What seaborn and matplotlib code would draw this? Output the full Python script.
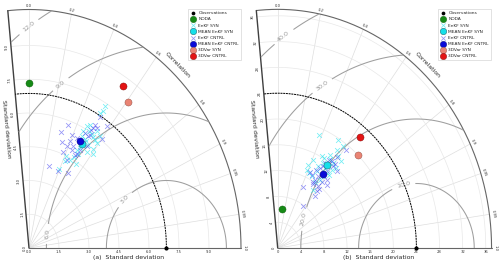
import numpy as np
import matplotlib
matplotlib.use("Agg")
import matplotlib.pyplot as plt
import seaborn as sns

sns.set_style("white")
plt.rcParams['font.family'] = ['DejaVu Sans']

# ---------------- data ----------------
labels = ["Observations", "NODA", "EnKF SYN", "MEAN EnKF SYN", "EnKF CNTRL",
          "MEAN EnKF CNTRL", "3DVar SYN", "3DVar CNTRL"]
corr_ticks = [0.0, 0.2, 0.4, 0.6, 0.8, 0.9, 0.95, 0.99, 1.0]
corr_min = -0.1

# panel (a)
a_ref_std = 6.87
a_std_ticks = [0.0, 1.5, 3.0, 4.5, 6.0, 7.5, 9.0]
a_rms_levels = [3.0, 6.0, 9.0, 12.0]
a_noda = [7.35, 0.00]          # std, corr
a_mean_syn = [5.34, 0.50]
a_mean_cntrl = [5.41, 0.471]
a_3dvar_syn = [8.14, 0.606]
a_3dvar_cntrl = [8.61, 0.548]
a_syn_std = [7.38, 7.10, 6.27, 6.15, 6.19, 5.97, 5.64, 5.89, 5.59, 5.81, 5.47, 5.76, 5.12, 5.43, 5.16,
             4.86, 5.28, 4.63, 4.43, 4.40, 4.25, 3.82, 5.86, 6.97, 5.53, 5.33, 6.00, 4.97, 4.47, 6.10]
a_syn_corr = [0.515, 0.518, 0.486, 0.475, 0.546, 0.525, 0.467, 0.546, 0.501, 0.568, 0.542, 0.587, 0.498,
              0.586, 0.566, 0.508, 0.609, 0.486, 0.463, 0.534, 0.424, 0.397, 0.464, 0.509, 0.515, 0.493,
              0.502, 0.486, 0.414, 0.582]
a_cntrl_std = [6.82, 6.68, 6.40, 5.82, 6.31, 6.07, 5.83, 5.47, 5.39, 5.78, 6.05, 5.44, 4.97, 5.17, 5.40,
               4.89, 5.03, 5.36, 4.59, 4.84, 5.06, 4.35, 3.77, 3.71, 3.87, 4.74, 5.89, 5.43, 4.86, 6.21]
a_cntrl_corr = [0.521, 0.586, 0.516, 0.338, 0.536, 0.508, 0.480, 0.390, 0.294, 0.513, 0.600, 0.438, 0.329,
                0.397, 0.503, 0.385, 0.440, 0.538, 0.367, 0.499, 0.504, 0.433, 0.270, 0.395, 0.508, 0.485,
                0.518, 0.463, 0.439, 0.513]

# panel (b)
b_ref_std = 24.0
b_std_ticks = [0, 4, 8, 12, 16, 20, 24, 28, 32, 36]
b_rms_levels = [10.0, 20.0, 30.0, 40.0]
b_noda = [6.09, 0.113]
b_mean_syn = [15.52, 0.554]
b_mean_cntrl = [13.87, 0.561]
b_3dvar_syn = [20.1, 0.694]
b_3dvar_cntrl = [22.3, 0.639]
b_syn_std = [18.87, 19.66, 19.36, 16.21, 17.07, 15.02, 17.30, 16.32, 13.14, 14.49, 14.86, 15.32, 13.67, 14.39,
             12.57, 12.88, 10.95, 18.41, 15.99, 15.31, 14.46, 12.06, 16.50, 13.87, 17.67, 13.47, 16.09, 12.86]
b_syn_corr = [0.379, 0.528, 0.581, 0.469, 0.530, 0.411, 0.630, 0.590, 0.382, 0.486, 0.551, 0.610, 0.494,
              0.589, 0.468, 0.569, 0.564, 0.561, 0.631, 0.509, 0.618, 0.536, 0.549, 0.383, 0.594, 0.565,
              0.498, 0.426]
b_cntrl_std = [19.21, 17.48, 16.27, 15.52, 15.93, 14.40, 15.74, 13.00, 14.60, 12.80, 13.15, 13.57, 12.41,
               12.71, 11.62, 11.95, 13.05, 10.45, 11.65, 10.29, 7.92, 14.92, 16.37, 13.83, 13.70, 11.08,
               16.41, 11.90]
b_cntrl_corr = [0.615, 0.590, 0.549, 0.528, 0.598, 0.508, 0.656, 0.430, 0.581, 0.460, 0.535, 0.625, 0.521,
                0.599, 0.521, 0.589, 0.658, 0.425, 0.619, 0.628, 0.561, 0.529, 0.571, 0.479, 0.585, 0.609,
                0.604, 0.518]

# ---------------- layout ----------------
FW, FH = 500, 265
fig = plt.figure(figsize=(FW / 100, FH / 100), dpi=100)
tmax = np.arccos(corr_min)


def to_xy(std, corr):
    std = np.asarray(std, float)
    corr = np.asarray(corr, float)
    return std * corr, std * np.sqrt(1 - corr ** 2)


def panel(x0, ox, oy, hs, vs, smax, ref, std_ticks, std_fmt, levels, lab_angles, tag,
          noda, msyn, mcntrl, vsyn, vcntrl, syn_s, syn_c, cn_s, cn_c):
    ax = fig.add_axes([x0 / FW, 0, 250 / FW, 1])
    ax.set_xlim(-ox / hs, (250 - ox) / hs)
    ax.set_ylim(-(FH - oy) / vs, oy / vs)
    ax.axis('off')

    th = np.linspace(0, tmax, 300)
    # grid
    for c in corr_ticks:
        t = np.arccos(c)
        ax.plot([0, smax * np.cos(t)], [0, smax * np.sin(t)], color='0.87', lw=0.5, zorder=1)
    for s in std_ticks[1:]:
        ax.plot(s * np.cos(th), s * np.sin(th), color='0.91', lw=0.5, zorder=1)
    # frame
    ax.plot(smax * np.cos(th), smax * np.sin(th), color='0.4', lw=0.8, zorder=2)
    ax.plot([0, smax], [0, 0], color='0.4', lw=0.8, zorder=2)
    ax.plot([0, smax * np.cos(tmax)], [0, smax * np.sin(tmax)], color='0.25', lw=1.0, zorder=2)

    # RMS contours
    gx = np.linspace(-0.15 * smax, smax, 500)
    gy = np.linspace(0, smax, 500)
    X, Y = np.meshgrid(gx, gy)
    R = np.hypot(X, Y)
    T = np.arctan2(Y, X)
    RMS = np.hypot(X - ref, Y)
    RMS = np.ma.masked_where((R > smax) | (T > tmax), RMS)
    cs = ax.contour(X, Y, RMS, levels=levels, colors='0.62', linewidths=0.75, zorder=2)
    pos = [(ref + L * np.cos(np.radians(p)), L * np.sin(np.radians(p))) for L, p in zip(levels, lab_angles)]
    ax.clabel(cs, inline=True, fontsize=4.6, fmt='%.1f', manual=pos, colors='0.6')

    # reference arc
    ax.plot(ref * np.cos(th), ref * np.sin(th), color='k', ls=(0, (2, 0.8)), lw=0.7, zorder=3)

    # tick labels: bottom
    for s in std_ticks:
        ax.annotate(std_fmt.format(s), xy=(s, 0), xytext=(0, -1.2), textcoords='offset points',
                    ha='center', va='top', fontsize=2.7, color='0.2')
    # left axis
    for s in std_ticks:
        ax.annotate(std_fmt.format(s), xy=(s * np.cos(tmax), s * np.sin(tmax)), xytext=(-2.8, 0),
                    textcoords='offset points', ha='center', va='center', fontsize=2.7,
                    rotation=90, color='0.2')
    # correlation ticks
    for c in corr_ticks:
        t = np.arccos(c)
        dx, dy = np.cos(t) * hs, np.sin(t) * vs
        n = np.hypot(dx, dy)
        rot = np.degrees(np.arctan2(dy, dx)) - 90
        ax.annotate(f"{c:g}" if c not in (0.0, 1.0) else f"{c:.1f}",
                    xy=(smax * np.cos(t), smax * np.sin(t)),
                    xytext=(2.6 * dx / n, 2.6 * dy / n), textcoords='offset points',
                    ha='center', va='center', fontsize=2.7, rotation=rot, color='0.2')

    # axis titles
    tc = np.radians(47.5)
    dx, dy = np.sin(tc) * hs, -np.cos(tc) * vs
    ax.text(1.04 * smax * np.cos(tc), 1.04 * smax * np.sin(tc), "Correlation",
            rotation=np.degrees(np.arctan2(dy, dx)), ha='center', va='center', fontsize=4.4,
            rotation_mode='anchor', color='0.15')
    rl = 0.5 * smax
    ax.annotate("Standard deviation", xy=(rl * np.cos(tmax), rl * np.sin(tmax)), xytext=(-9, 0),
                textcoords='offset points', ha='center', va='center', fontsize=4.4,
                rotation=-84.8, color='0.15')
    ax.annotate(f"({tag})  Standard deviation", xy=(0.47 * smax, 0), xytext=(0, -6.8),
                textcoords='offset points', ha='center', va='center', fontsize=4.4, color='0.15')

    # points
    sns.scatterplot(x=[ref], y=[0], ax=ax, color='k', s=9, linewidth=0, label=labels[0], zorder=6)
    x, y = to_xy([noda[0]], [noda[1]])
    sns.scatterplot(x=x, y=y, ax=ax, color='#168a16', s=26, edgecolor='#0d5c0d', linewidth=0.3,
                    label=labels[1], zorder=5)
    x, y = to_xy(syn_s, syn_c)
    sns.scatterplot(x=x, y=y, ax=ax, color='#33e6f0', marker='x', s=12, linewidth=0.55, alpha=0.7,
                    label=labels[2], zorder=4)
    x, y = to_xy([msyn[0]], [msyn[1]])
    sns.scatterplot(x=x, y=y, ax=ax, color='#15e0ea', s=26, edgecolor='#1d6f7a', linewidth=0.4,
                    label=labels[3], zorder=6)
    x, y = to_xy(cn_s, cn_c)
    sns.scatterplot(x=x, y=y, ax=ax, color='#3b3bf0', marker='x', s=12, linewidth=0.55, alpha=0.55,
                    label=labels[4], zorder=4)
    x, y = to_xy([mcntrl[0]], [mcntrl[1]])
    sns.scatterplot(x=x, y=y, ax=ax, color='#0a0ad8', s=26, edgecolor='#05056e', linewidth=0.3,
                    label=labels[5], zorder=6)
    x, y = to_xy([vsyn[0]], [vsyn[1]])
    sns.scatterplot(x=x, y=y, ax=ax, color='#ea8474', s=26, edgecolor='#8a4a40', linewidth=0.3,
                    label=labels[6], zorder=5)
    x, y = to_xy([vcntrl[0]], [vcntrl[1]])
    sns.scatterplot(x=x, y=y, ax=ax, color='#e31414', s=26, edgecolor='#7a0a0a', linewidth=0.3,
                    label=labels[7], zorder=5)

    leg = ax.legend(loc='upper right', bbox_to_anchor=(241 / 250, 1 - 9 / FH), borderaxespad=0,
                    fontsize=3.2, frameon=True, fancybox=False, edgecolor='0.8', framealpha=1,
                    labelspacing=0.45, handletextpad=0.6, borderpad=0.5, markerscale=0.9,
                    handlelength=1.2)
    leg.get_frame().set_linewidth(0.4)
    return ax


panel(0, 29, 248, 20.0, 22.5, 10.6, a_ref_std, a_std_ticks, "{:.1f}", a_rms_levels,
      [134, 174, 126, 125], "a",
      a_noda, a_mean_syn, a_mean_cntrl, a_3dvar_syn, a_3dvar_cntrl,
      a_syn_std, a_syn_corr, a_cntrl_std, a_cntrl_corr)
panel(250, 27.7, 248, 5.78, 6.45, 37.0, b_ref_std, b_std_ticks, "{:d}", b_rms_levels,
      [103, 167, 123, 125], "b",
      b_noda, b_mean_syn, b_mean_cntrl, b_3dvar_syn, b_3dvar_cntrl,
      b_syn_std, b_syn_corr, b_cntrl_std, b_cntrl_corr)

fig.savefig("out.png", dpi=100)
